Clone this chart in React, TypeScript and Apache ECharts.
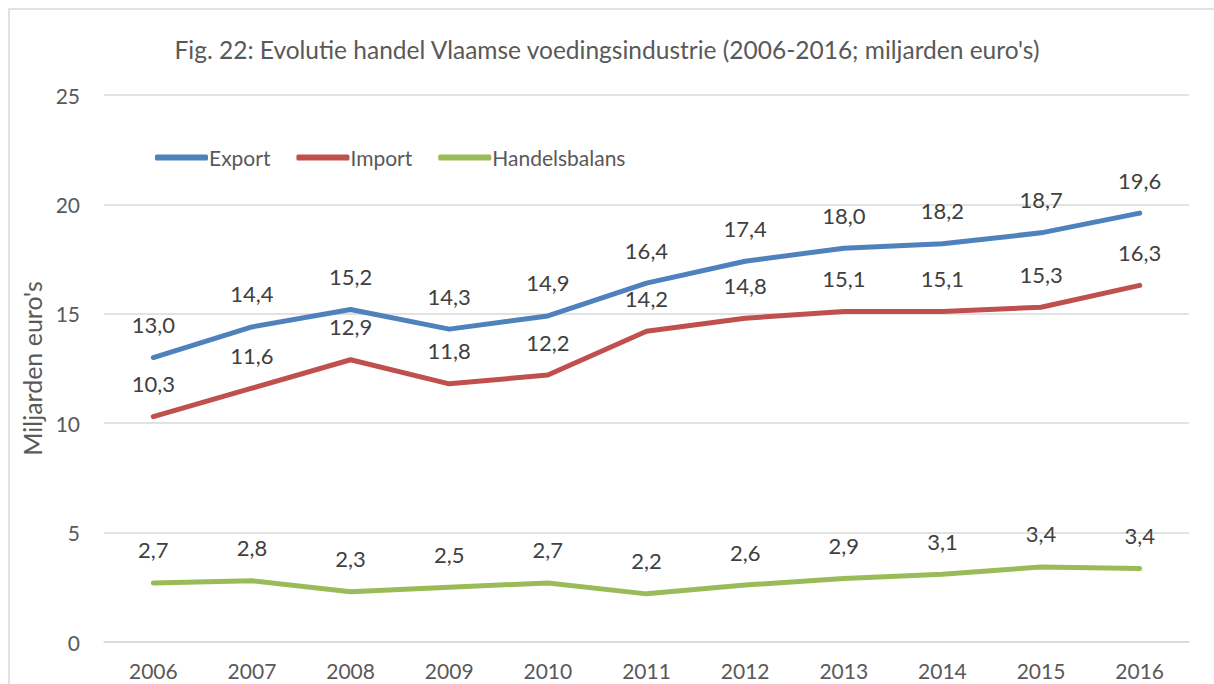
import React, { useEffect, useRef } from "react";
import * as echarts from "echarts";

const years = ["2006", "2007", "2008", "2009", "2010", "2011", "2012", "2013", "2014", "2015", "2016"];
const exportValues = [13.0, 14.4, 15.2, 14.3, 14.9, 16.4, 17.4, 18.0, 18.2, 18.7, 19.6];
const importValues = [10.3, 11.6, 12.9, 11.8, 12.2, 14.2, 14.8, 15.1, 15.1, 15.3, 16.3];
const balanceValues = [2.7, 2.8, 2.3, 2.5, 2.7, 2.2, 2.6, 2.9, 3.1, 3.43, 3.36];

const FONT = "Lato";

export default function App() {
  const ref = useRef<HTMLDivElement>(null);
  useEffect(() => {
    document.body.style.margin = "0";
    const chart = echarts.init(ref.current!, null, { renderer: "svg" });
    const fmt = (p: any) => Number(p.value).toFixed(1).replace(".", ",");
    const mk = (name: string, data: number[], color: string) => ({
      name,
      type: "line",
      data,
      symbol: "circle",
      symbolSize: 4,
      showSymbol: true,
      lineStyle: { color, width: 5, cap: "round", join: "round" },
      itemStyle: { color },
      label: {
        show: true,
        position: "top",
        distance: 20,
        formatter: fmt,
        color: "#404040",
        fontSize: 22,
        fontFamily: FONT,
      },
    });
    chart.setOption({
      animation: false,
      backgroundColor: "#ffffff",
      title: {
        text: "Fig. 22: Evolutie handel Vlaamse voedingsindustrie (2006-2016; miljarden euro's)",
        left: "center",
        top: 32,
        textStyle: { color: "#595959", fontSize: 24.5, fontWeight: "normal", fontFamily: FONT },
      },
      legend: {
        left: 150,
        top: 142,
        icon: "roundRect",
        itemWidth: 53,
        itemHeight: 6,
        itemGap: 26,
        textStyle: { color: "#595959", fontSize: 21, fontFamily: FONT, padding: [0, 0, 0, -4] },
        data: ["Export", "Import", "Handelsbalans"],
      },
      graphic: [
        {
          type: "rect",
          shape: { x: 9, y: 9, width: 1230, height: 700 },
          style: { fill: "none", stroke: "#d9d9d9", lineWidth: 1.5 },
          silent: true,
        },
      ],
      grid: { left: 104, right: 25, top: 95, bottom: 42 },
      xAxis: {
        type: "category",
        data: years,
        boundaryGap: true,
        axisLine: { show: true, lineStyle: { color: "#d9d9d9", width: 1.5 } },
        axisTick: { show: false },
        axisLabel: { color: "#595959", fontSize: 21, fontFamily: FONT, margin: 18 },
      },
      yAxis: {
        type: "value",
        min: 0,
        max: 25,
        interval: 5,
        name: "Miljarden euro's",
        nameLocation: "middle",
        nameGap: 56,
        nameRotate: 90,
        nameTextStyle: { color: "#595959", fontSize: 25, fontFamily: FONT },
        axisLine: { show: false },
        axisTick: { show: false },
        axisLabel: { color: "#595959", fontSize: 21, fontFamily: FONT, margin: 24 },
        splitLine: { lineStyle: { color: "#d9d9d9", width: 1.5 } },
      },
      series: [
        mk("Export", exportValues, "#4F81BD"),
        mk("Import", importValues, "#C0504D"),
        mk("Handelsbalans", balanceValues, "#9BBB59"),
      ],
    });
    return () => chart.dispose();
  }, []);
  return <div ref={ref} style={{ width: 1214, height: 684 }} />;
}
